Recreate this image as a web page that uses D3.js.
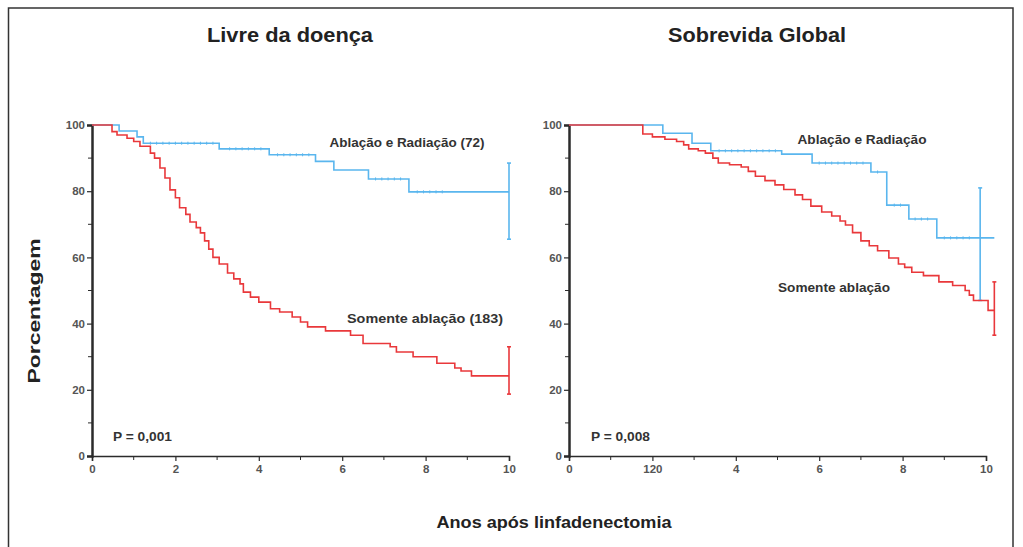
<!DOCTYPE html>
<html>
<head>
<meta charset="utf-8">
<script src="https://cdn.jsdelivr.net/npm/d3@7"></script>
<style>
  html, body { margin: 0; padding: 0; background: #fff; }
  svg { display: block; font-family: "Liberation Sans", Arial, sans-serif; }
</style>
</head>
<body>
<svg id="chart" width="1023" height="547"></svg>
<script>
// Kaplan-Meier step data: event times (years) and survival (%) after each event
const dfsRadTimes  = [0, 0.65, 1.08, 1.23, 3.05, 4.25, 5.36, 5.8, 6.63, 7.6, 10];
const dfsRadSurv   = [100, 98.2, 96.4, 94.5, 92.8, 91, 89, 86.4, 83.7, 79.8, 79.8];
const dfsRadCens   = [1.4, 1.55, 1.7, 1.85, 2.0, 2.15, 2.3, 2.45, 2.6, 2.75, 2.9, 3.3, 3.45, 3.6, 3.75, 3.9, 4.05, 4.45, 4.6, 4.75, 4.9, 5.05, 5.2, 6.8, 6.95, 7.1, 7.25, 7.4, 7.8, 7.95, 8.1, 8.25, 8.4];

const dfsAblTimes  = [0, 0.48, 0.6, 0.84, 1.0, 1.15, 1.4, 1.5, 1.63, 1.75, 1.87, 2.0, 2.1, 2.25, 2.35, 2.5, 2.6, 2.7, 2.8, 2.9, 3.05, 3.25, 3.4, 3.55, 3.63, 3.8, 4.0, 4.28, 4.5, 4.8, 5.0, 5.17, 5.6, 6.2, 6.5, 7.15, 7.3, 7.7, 8.27, 8.7, 8.85, 9.1, 10];
const dfsAblSurv   = [100, 98, 97, 96, 95, 93.6, 91.5, 90, 87, 84, 80.4, 78, 75, 73, 70.7, 69, 67.4, 65, 62.5, 60, 58, 55.3, 53.5, 52, 49.5, 48, 46.5, 44.5, 43.5, 42, 40.5, 39, 37.8, 36.5, 34, 33, 31.4, 30, 28, 26.6, 25.7, 24.2, 24.2];

const osRadTimes   = [0, 2.25, 2.95, 3.4, 5.1, 5.83, 7.24, 7.62, 8.15, 8.82, 10.2];
const osRadSurv    = [100, 97.5, 94.5, 92.2, 91.2, 88.5, 85.8, 75.8, 71.6, 65.9, 65.9];
const osRadCens    = [3.6, 3.75, 3.9, 4.05, 4.2, 4.35, 4.5, 4.65, 4.8, 4.95, 6.0, 6.15, 6.3, 6.45, 6.6, 6.75, 6.9, 7.05, 7.4, 7.8, 7.95, 8.3, 8.45, 8.6, 9.0, 9.15, 9.3, 9.45, 9.6];

const osAblTimes   = [0, 1.77, 2.0, 2.3, 2.58, 2.75, 2.87, 3.1, 3.27, 3.45, 3.58, 3.85, 4.13, 4.3, 4.47, 4.7, 4.94, 5.15, 5.42, 5.6, 5.8, 6.06, 6.3, 6.5, 6.63, 6.8, 7.0, 7.2, 7.4, 7.67, 7.9, 8.05, 8.22, 8.5, 8.87, 9.2, 9.5, 9.6, 9.7, 10.05, 10.2];
const osAblSurv    = [100, 97.3, 96.4, 95.7, 95, 94, 92.8, 92.2, 91.5, 90, 88.5, 88, 87.3, 86, 84.5, 83.2, 81.9, 80.5, 78.9, 77.5, 75.5, 73.7, 72.5, 71, 69.8, 67.5, 65, 63.5, 62, 59.8, 58, 57, 55.5, 54.5, 52.6, 51.5, 50, 48.6, 47, 44, 44];

// 95% confidence bars at the end of each curve: [time, upper, lower]
const dfsRadCI = [10, 88.5, 65.5];
const dfsAblCI = [10, 33, 18.7];
const osRadCI  = [9.86, 81, 47];
const osAblCI  = [10.2, 52.6, 36.5];

// Axis ticks
const yTicks      = [0, 20, 40, 60, 80, 100];
const yMinorTicks = [10, 30, 50, 70, 90];
const xTicks      = [0, 2, 4, 6, 8, 10];
const xMinorTicks = [1, 3, 5, 7, 9];
const dfsXLabels  = ["0", "2", "4", "6", "8", "10"];
const osXLabels   = ["0", "120", "4", "6", "8", "10"];

const BLUE = "#5ab6ee";
const RED  = "#e9383b";
const INK  = "#2b2b2b";

const svg = d3.select("#chart");

// outer frame
svg.append("rect")
  .attr("x", 8.5).attr("y", 8).attr("width", 1004.5).attr("height", 560)
  .attr("fill", "none").attr("stroke", "#333").attr("stroke-width", 1.5);

const y = d3.scaleLinear().domain([0, 100]).range([456, 125]);

function stepPath(x, times, surv) {
  const line = d3.line().curve(d3.curveStepAfter)
    .x(d => x(d[0])).y(d => y(d[1]));
  return line(times.map((t, i) => [t, surv[i]]));
}

function survAt(times, surv, t) {
  let s = surv[0];
  for (let i = 0; i < times.length; i++) if (times[i] <= t) s = surv[i];
  return s;
}

function panel(cfg) {
  const x = d3.scaleLinear().domain([0, 10]).range([cfg.x0, cfg.x1]);
  const g = svg.append("g");

  // title
  g.append("text")
    .attr("x", cfg.titleX).attr("y", 42)
    .attr("text-anchor", "middle")
    .attr("font-size", 20).attr("font-weight", "bold")
    .attr("fill", "#222")
    .attr("textLength", cfg.titleW).attr("lengthAdjust", "spacingAndGlyphs")
    .text(cfg.title);

  // y axis
  const yAxis = d3.axisLeft(y).tickValues(yTicks).tickSize(5).tickPadding(2);
  const ga = g.append("g").attr("transform", `translate(${cfg.x0},0)`).call(yAxis);
  ga.select(".domain").attr("stroke", INK).attr("stroke-width", 2.5);
  ga.selectAll(".tick line").attr("stroke", INK).attr("stroke-width", 1.2);
  ga.selectAll(".tick text").attr("font-size", 11.5).attr("font-weight", "bold").attr("fill", "#555");
  g.selectAll(".ymin").data(yMinorTicks).enter().append("line")
    .attr("x1", cfg.x0 - 4).attr("x2", cfg.x0)
    .attr("y1", d => y(d)).attr("y2", d => y(d))
    .attr("stroke", INK).attr("stroke-width", 1);

  // x axis
  const xAxis = d3.axisBottom(x).tickValues(xTicks).tickSize(5).tickPadding(4)
    .tickFormat((d, i) => cfg.xLabels[i]);
  const gx = g.append("g").attr("transform", `translate(0,456)`).call(xAxis);
  gx.select(".domain").attr("stroke", INK).attr("stroke-width", 1.5);
  gx.selectAll(".tick line").attr("stroke", INK).attr("stroke-width", 1.2);
  gx.selectAll(".tick text").attr("font-size", 11.5).attr("font-weight", "bold").attr("fill", "#555");
  g.selectAll(".xmin").data(xMinorTicks).enter().append("line")
    .attr("x1", d => x(d)).attr("x2", d => x(d))
    .attr("y1", 456).attr("y2", 460)
    .attr("stroke", INK).attr("stroke-width", 1);

  // curves
  cfg.curves.forEach(c => {
    g.append("path")
      .attr("d", stepPath(x, c.times, c.surv))
      .attr("fill", "none").attr("stroke", c.color).attr("stroke-width", 1.6);
    g.selectAll(null).data(c.cens || []).enter().append("line")
      .attr("x1", d => x(d)).attr("x2", d => x(d))
      .attr("y1", d => y(survAt(c.times, c.surv, d)) - 1.5)
      .attr("y2", d => y(survAt(c.times, c.surv, d)) + 1.5)
      .attr("stroke", c.color).attr("stroke-width", 1);
    const [t, hi, lo] = c.ci;
    g.append("line")
      .attr("x1", x(t)).attr("x2", x(t)).attr("y1", y(hi)).attr("y2", y(lo))
      .attr("stroke", c.color).attr("stroke-width", 1.6);
    [hi, lo].forEach(v => g.append("line")
      .attr("x1", x(t) - 2).attr("x2", x(t) + 2).attr("y1", y(v)).attr("y2", y(v))
      .attr("stroke", c.color).attr("stroke-width", 1.6));
  });

  // annotations
  cfg.notes.forEach(n => g.append("text")
    .attr("x", n.x).attr("y", n.y).attr("text-anchor", n.anchor || "middle")
    .attr("font-size", 12.5).attr("font-weight", "bold").attr("fill", "#333")
    .attr("textLength", n.w).attr("lengthAdjust", "spacingAndGlyphs")
    .text(n.text));
}

panel({
  x0: 92, x1: 509, title: "Livre da doença", titleX: 290, titleW: 166,
  xLabels: dfsXLabels,
  curves: [
    { times: dfsRadTimes, surv: dfsRadSurv, cens: dfsRadCens, color: BLUE, ci: dfsRadCI },
    { times: dfsAblTimes, surv: dfsAblSurv, color: RED, ci: dfsAblCI }
  ],
  notes: [
    { x: 407, y: 147, w: 155, text: "Ablação e Radiação (72)" },
    { x: 425, y: 323, w: 156, text: "Somente ablação (183)" },
    { x: 113, y: 441, w: 59, text: "P = 0,001", anchor: "start" }
  ]
});

panel({
  x0: 569, x1: 986, title: "Sobrevida Global", titleX: 757, titleW: 178,
  xLabels: osXLabels,
  curves: [
    { times: osRadTimes, surv: osRadSurv, cens: osRadCens, color: BLUE, ci: osRadCI },
    { times: osAblTimes, surv: osAblSurv, color: RED, ci: osAblCI }
  ],
  notes: [
    { x: 862, y: 144, w: 129, text: "Ablação e Radiação" },
    { x: 834, y: 292, w: 112, text: "Somente ablação" },
    { x: 591, y: 441, w: 59, text: "P = 0,008", anchor: "start" }
  ]
});

// shared axis titles
svg.append("text")
  .attr("transform", "translate(40,311) rotate(-90)")
  .attr("text-anchor", "middle")
  .attr("font-size", 16).attr("font-weight", "bold").attr("fill", "#222")
  .attr("textLength", 145).attr("lengthAdjust", "spacingAndGlyphs")
  .text("Porcentagem");

svg.append("text")
  .attr("x", 554).attr("y", 528)
  .attr("text-anchor", "middle")
  .attr("font-size", 17).attr("font-weight", "bold").attr("fill", "#222")
  .attr("textLength", 235).attr("lengthAdjust", "spacingAndGlyphs")
  .text("Anos após linfadenectomia");
</script>
</body>
</html>
